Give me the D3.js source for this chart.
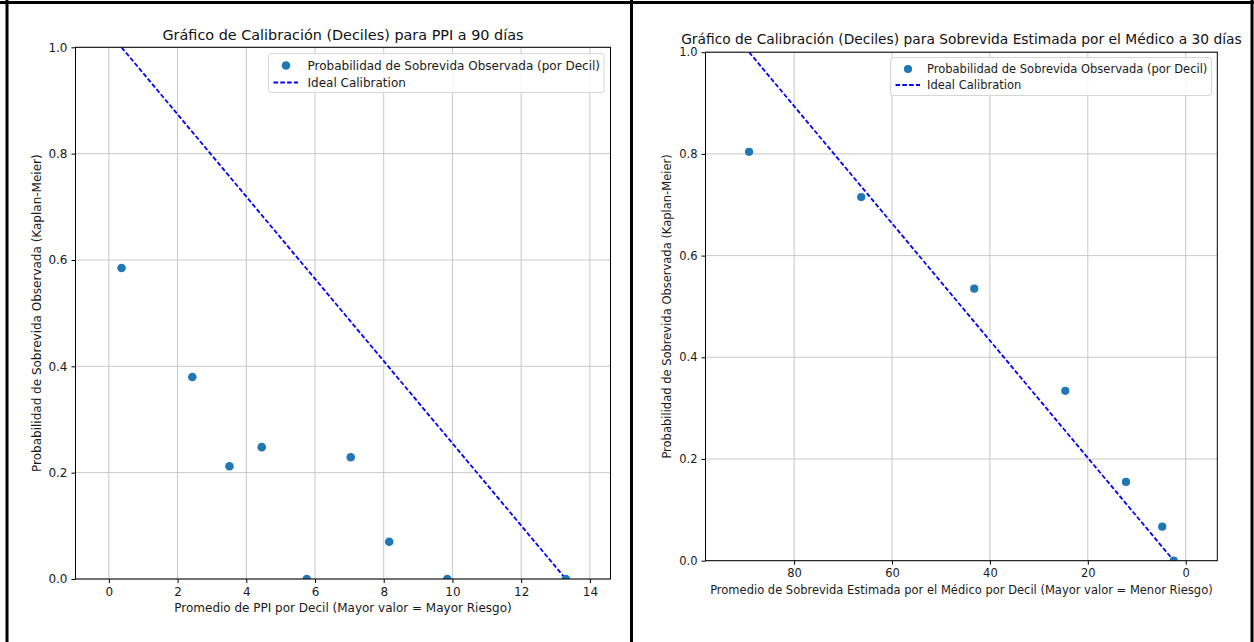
<!DOCTYPE html>
<html>
<head>
<meta charset="utf-8">
<script src="https://cdn.jsdelivr.net/npm/d3@7"></script>
<style>
  html, body { margin: 0; padding: 0; background: #fff; }
  svg { display: block; font-family: "DejaVu Sans", sans-serif; }
</style>
</head>
<body>
<svg id="chart" width="1254" height="642"></svg>
<script>
// Mean PPI per decil vs observed Kaplan-Meier survival at 90 days
const ppiMean = [0.37, 2.43, 3.51, 4.45, 5.76, 7.04, 8.16, 9.85, 13.30];
const ppiSurv = [0.585, 0.380, 0.212, 0.248, 0.0, 0.229, 0.070, 0.0, 0.0];
const ppiTicksX = [0, 2, 4, 6, 8, 10, 12, 14];

// Mean physician-estimated survival per decil vs observed survival at 30 days
const medMean = [89.2, 66.3, 43.2, 24.6, 12.2, 4.8, 2.45];
const medSurv = [0.804, 0.715, 0.535, 0.334, 0.155, 0.067, 0.0];
const medTicksX = [80, 60, 40, 20, 0];

const yTicks = [0.0, 0.2, 0.4, 0.6, 0.8, 1.0];

const legendPoint = "Probabilidad de Sobrevida Observada (por Decil)";
const legendLine = "Ideal Calibration";
const yLabel = "Probabilidad de Sobrevida Observada (Kaplan-Meier)";

const svg = d3.select("#chart");
svg.append("rect").attr("width", 1254).attr("height", 642).attr("fill", "#fff");

const panels = [
  {
    id: "ppi",
    xs: ppiMean, ys: ppiSurv, ticks: ppiTicksX,
    xDomain: [-0.97, 14.6],
    box: { x0: 75.5, x1: 610.5, y0: 47.3, y1: 579 },
    title: "Gráfico de Calibración (Deciles) para PPI a 90 días",
    titleY: 40,
    xLabel: "Promedio de PPI por Decil (Mayor valor = Mayor Riesgo)",
    xLabelY: 612,
    yLabelX: 41,
    font: { tick: 12, label: 12, title: 14.4 },
    r: 4.3,
    legend: { x: 268.5, y: 53.5, w: 335.5, h: 39, row1: 16, row2: 33, mx: 17.5, tx: 39 }
  },
  {
    id: "med",
    xs: medMean, ys: medSurv, ticks: medTicksX,
    xDomain: [98.1, -6.45],
    box: { x0: 705.5, x1: 1217.3, y0: 52.2, y1: 560.7 },
    title: "Gráfico de Calibración (Deciles) para Sobrevida Estimada por el Médico a 30 días",
    titleY: 43.5,
    xLabel: "Promedio de Sobrevida Estimada por el Médico por Decil (Mayor valor = Menor Riesgo)",
    xLabelY: 594,
    yLabelX: 671,
    font: { tick: 11.5, label: 11.5, title: 13.8 },
    r: 4.1,
    legend: { x: 890.5, y: 57.5, w: 321, h: 38, row1: 15.5, row2: 31.5, mx: 17.5, tx: 36.5 }
  }
];

panels.forEach(p => {
  const b = p.box;
  const f = p.font;
  const x = d3.scaleLinear().domain(p.xDomain).range([b.x0, b.x1]);
  const y = d3.scaleLinear().domain([0, 1]).range([b.y1, b.y0]);
  const g = svg.append("g");

  g.append("clipPath").attr("id", "clip-" + p.id)
    .append("rect").attr("x", b.x0).attr("y", b.y0)
    .attr("width", b.x1 - b.x0).attr("height", b.y1 - b.y0);

  // grid
  g.append("g").selectAll("line").data(p.ticks).join("line")
    .attr("x1", d => x(d)).attr("x2", d => x(d))
    .attr("y1", b.y0).attr("y2", b.y1)
    .attr("stroke", "#c8c8c8").attr("stroke-width", 1);
  g.append("g").selectAll("line").data(yTicks).join("line")
    .attr("x1", b.x0).attr("x2", b.x1)
    .attr("y1", d => y(d)).attr("y2", d => y(d))
    .attr("stroke", "#c8c8c8").attr("stroke-width", 1);

  const plot = g.append("g").attr("clip-path", `url(#clip-${p.id})`);

  // ideal calibration: survival 1 at one end of the decil means, 0 at the other
  const idealX = [p.xs[0], p.xs[p.xs.length - 1]];
  const idealY = [1, 0];
  plot.append("path")
    .datum(idealX.map((v, i) => [v, idealY[i]]))
    .attr("d", d3.line().x(d => x(d[0])).y(d => y(d[1])))
    .attr("fill", "none").attr("stroke", "#0000ff")
    .attr("stroke-width", 1.8).attr("stroke-dasharray", "4.6,2.2");

  plot.append("g").selectAll("circle").data(p.xs.map((v, i) => [v, p.ys[i]])).join("circle")
    .attr("cx", d => x(d[0])).attr("cy", d => y(d[1])).attr("r", p.r)
    .attr("fill", "#1f77b4");

  // axes
  const xAxis = d3.axisBottom(x).tickValues(p.ticks).tickSize(4).tickPadding(4)
    .tickFormat(d3.format("d"));
  const yAxis = d3.axisLeft(y).tickValues(yTicks).tickSize(4).tickPadding(4)
    .tickFormat(d3.format(".1f"));
  const gx = g.append("g").attr("transform", `translate(0,${b.y1})`).call(xAxis);
  const gy = g.append("g").attr("transform", `translate(${b.x0},0)`).call(yAxis);
  [gx, gy].forEach(a => {
    a.select(".domain").remove();
    a.selectAll("line").attr("stroke", "#000").attr("stroke-width", 1);
    a.selectAll("text").attr("fill", "#1a1a1a").attr("font-size", f.tick)
      .attr("font-family", "DejaVu Sans");
  });

  // spines
  g.append("rect").attr("x", b.x0).attr("y", b.y0)
    .attr("width", b.x1 - b.x0).attr("height", b.y1 - b.y0)
    .attr("fill", "none").attr("stroke", "#000").attr("stroke-width", 1);

  // titles & labels
  const cx = (b.x0 + b.x1) / 2;
  g.append("text").attr("x", cx).attr("y", p.titleY).attr("text-anchor", "middle")
    .attr("font-size", f.title).attr("fill", "#111").text(p.title);
  g.append("text").attr("x", cx).attr("y", p.xLabelY).attr("text-anchor", "middle")
    .attr("font-size", f.label).attr("fill", "#1a1a1a").text(p.xLabel);
  g.append("text")
    .attr("transform", `translate(${p.yLabelX},${(b.y0 + b.y1) / 2}) rotate(-90)`)
    .attr("text-anchor", "middle")
    .attr("font-size", f.label).attr("fill", "#1a1a1a").text(yLabel);

  // legend
  const L = p.legend;
  const lg = g.append("g").attr("transform", `translate(${L.x},${L.y})`);
  lg.append("rect").attr("width", L.w).attr("height", L.h).attr("rx", 2.5)
    .attr("fill", "#fff").attr("fill-opacity", 0.8)
    .attr("stroke", "#d6d6d6").attr("stroke-width", 1);
  lg.append("circle").attr("cx", L.mx).attr("cy", L.row1 - 4).attr("r", p.r).attr("fill", "#1f77b4");
  lg.append("line").attr("x1", L.mx - 12.5).attr("x2", L.mx + 12)
    .attr("y1", L.row2 - 4).attr("y2", L.row2 - 4)
    .attr("stroke", "#0000ff").attr("stroke-width", 1.8).attr("stroke-dasharray", "4.6,2.2");
  lg.append("text").attr("x", L.tx).attr("y", L.row1).attr("font-size", f.label)
    .attr("fill", "#1a1a1a").text(legendPoint);
  lg.append("text").attr("x", L.tx).attr("y", L.row2).attr("font-size", f.label)
    .attr("fill", "#1a1a1a").text(legendLine);
});

// panel frames
const frame = svg.append("g").attr("fill", "none").attr("stroke", "#000").attr("stroke-width", 3);
frame.append("line").attr("x1", 7).attr("x2", 7).attr("y1", 0).attr("y2", 642);
frame.append("line").attr("x1", 631.5).attr("x2", 631.5).attr("y1", 0).attr("y2", 642);
frame.append("line").attr("x1", 1252).attr("x2", 1252).attr("y1", 0).attr("y2", 642);
frame.append("line").attr("x1", 0).attr("x2", 1254).attr("y1", 2.5).attr("y2", 2.5);
</script>
</body>
</html>
